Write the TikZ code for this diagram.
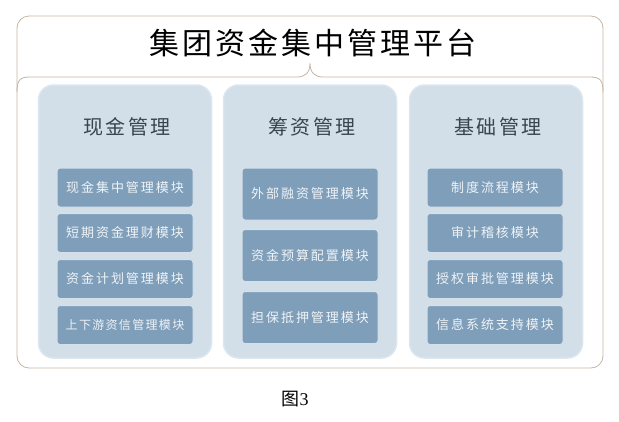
\documentclass[tikz,border=0pt]{standalone}
\usepackage{fontspec}
\setmainfont{Liberation Serif}
\newfontfamily\cjk{Noto Sans CJK SC}
\newfontfamily\cjktitle[LetterSpace=10]{Noto Sans CJK SC}
\newfontfamily\cjkhead[LetterSpace=12]{Noto Sans CJK SC}
\newfontfamily\cjkmod[LetterSpace=15]{Noto Sans CJK SC}
\newfontfamily\cjkmodtight[LetterSpace=11]{Noto Sans CJK SC}
\definecolor{framec}{HTML}{C4B5A5}
\definecolor{panelc}{HTML}{D2DFE8}
\definecolor{panelline}{HTML}{DCE6EE}
\definecolor{modc}{HTML}{7F9EB9}
\definecolor{modline}{HTML}{D5E1EA}
\definecolor{headc}{HTML}{3A444C}
\definecolor{modtext}{HTML}{EEF3F7}
\tikzset{
  frameline/.style={draw=framec, line width=0.8pt},
  panel/.style={draw=panelline, line width=1.5pt, fill=panelc, rounded corners=15pt, minimum width=173pt, minimum height=273pt, inner sep=0pt},
  head/.style={text=headc, font=\cjkhead\fontsize{20}{24}\selectfont, inner sep=0pt},
  modbox/.style={draw=modline, line width=1pt, fill=modc, rounded corners=3pt, minimum width=136pt, inner sep=0pt, text=modtext, font=\cjkmod\fontsize{13}{16}\selectfont},
  modsmall/.style={modbox, minimum height=39pt},
  modbig/.style={modbox, minimum height=52pt},
}
\begin{document}
\begin{tikzpicture}[x=1pt,y=-1pt]
\useasboundingbox (0,0) rectangle (619,421);
% outer frame
\draw[frameline, rounded corners=12pt] (17,16) rectangle (603,368);
\coordinate (bl) at (17,92);
\coordinate (br) at (603,92);
\coordinate (tip) at (310,63);
\draw[frameline] (bl) .. controls (17,80) and (20,77) .. (30,77) -- (297,77)
  .. controls (305,77) and (310,73) .. (tip)
  .. controls (310,73) and (315,77) .. (323,77) -- (590,77)
  .. controls (600,77) and (603,80) .. (br);
\node[font=\cjktitle\fontsize{30}{34}\selectfont, inner sep=0pt] (title) at (313,43) {集团资金集中管理平台};
% panels
\node[panel] (p1) at (125,221.5) {};
\node[panel] (p2) at (310,221.5) {};
\node[panel] (p3) at (496,221.5) {};
\node[head] (h1) at (127,127) {现金管理};
\node[head] (h2) at (312,127) {筹资管理};
\node[head] (h3) at (498,127) {基础管理};
% column 1
\node[modsmall] (a1) at (125,187.5) {现金集中管理模块};
\node[modsmall] (a2) at (125,233) {短期资金理财模块};
\node[modsmall] (a3) at (125,279) {资金计划管理模块};
\node[modsmall, font=\cjkmodtight\fontsize{12}{15}\selectfont] (a4) at (125,325) {上下游资信管理模块};
% column 2
\node[modbig] (b1) at (310,194) {外部融资管理模块};
\node[modbig] (b2) at (310,255.5) {资金预算配置模块};
\node[modbig] (b3) at (310,317.5) {担保抵押管理模块};
% column 3
\node[modsmall] (c1) at (495,187.5) {制度流程模块};
\node[modsmall] (c2) at (495,233) {审计稽核模块};
\node[modsmall] (c3) at (495,279) {授权审批管理模块};
\node[modsmall] (c4) at (495,325) {信息系统支持模块};
% caption
\node[inner sep=0pt, font=\fontsize{18}{22}\selectfont] (cap) at (295,399) {{\cjk 图}3};
\end{tikzpicture}
\end{document}
